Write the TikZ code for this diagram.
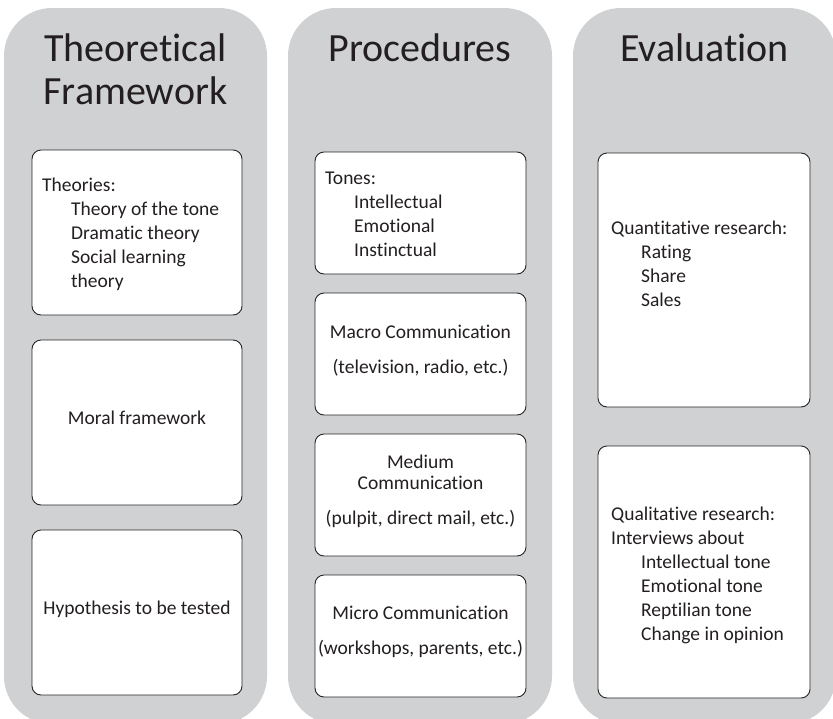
\documentclass[tikz,border=0pt]{standalone}
\usepackage{fontspec}
\setmainfont{Carlito}[Ligatures={NoCommon,NoContextual}, Contextuals=NoAlternate]
\definecolor{colgrey}{RGB}{208,209,211}
\definecolor{txt}{RGB}{35,31,32}
\begin{document}
\begin{tikzpicture}[x=1pt,y=-1pt,
  column/.style={fill=colgrey, rounded corners=48pt},
  box/.style={draw=black!85, fill=white, line width=0.9pt, rounded corners=9pt},
  title/.style={font=\fontsize{40}{43}\selectfont, text=txt, align=center, inner sep=0pt},
  body/.style={font=\fontsize{19.5}{24}\selectfont, text=txt, align=left, inner sep=0pt},
  bodyc/.style={body, align=center}]
\useasboundingbox (0,0) rectangle (833,718);
% columns
\fill[column] (4,8) rectangle (267,724);
\fill[column] (288,8) rectangle (552,724);
\fill[column] (573,8) rectangle (836,724);
% titles (anchor = baseline of last line)
\node[title, anchor=base] (h1) at (135.5,104) {Theoretical\\Framework};
\node[title, anchor=base] (h2) at (420,61) {Procedures};
\node[title, anchor=base] (h3) at (704.5,61) {Evaluation};
% column 1 boxes
\draw[box] (32,150) rectangle (242,315);
\draw[box] (32,340) rectangle (242,505);
\draw[box] (32,530) rectangle (242,695);
\node[body, anchor=base west] (t1) at (42,287) {Theories:\\\hspace*{29pt}Theory of the tone\\\hspace*{29pt}Dramatic theory\\\hspace*{29pt}Social learning\\\hspace*{29pt}theory};
\node[bodyc, anchor=base] (t2) at (137,424) {Moral framework};
\node[bodyc, anchor=base] (t3) at (137,614) {Hypothesis to be tested};
% column 2 boxes
\draw[box] (315,152) rectangle (526,274);
\draw[box] (315,293) rectangle (526,415);
\draw[box] (315,434) rectangle (526,556);
\draw[box] (315,575) rectangle (526,697);
\node[body, anchor=base west] (p1) at (325,256) {Tones:\\\hspace*{29pt}Intellectual\\\hspace*{29pt}Emotional\\\hspace*{29pt}Instinctual};
\node[bodyc, anchor=base] (p2) at (420.5,373) {Macro Communication\\[11pt](television, radio, etc.)};
\node[bodyc, anchor=base] (p3) at (420.5,524) {Medium\\[-3pt]Communication\\[11pt](pulpit, direct mail, etc.)};
\node[bodyc, anchor=base] (p4) at (420.5,654) {Micro Communication\\[11pt](workshops, parents, etc.)};
% column 3 boxes
\draw[box] (598,153) rectangle (810,407);
\draw[box] (598,446) rectangle (810,698);
\node[body, anchor=base west] (e1) at (611,306) {Quantitative research:\\\hspace*{30pt}Rating\\\hspace*{30pt}Share\\\hspace*{30pt}Sales};
\node[body, anchor=base west] (e2) at (611,640) {Qualitative research:\\Interviews about\\\hspace*{30pt}Intellectual tone\\\hspace*{30pt}Emotional tone\\\hspace*{30pt}Reptilian tone\\\hspace*{30pt}Change in opinion};
\end{tikzpicture}
\end{document}
